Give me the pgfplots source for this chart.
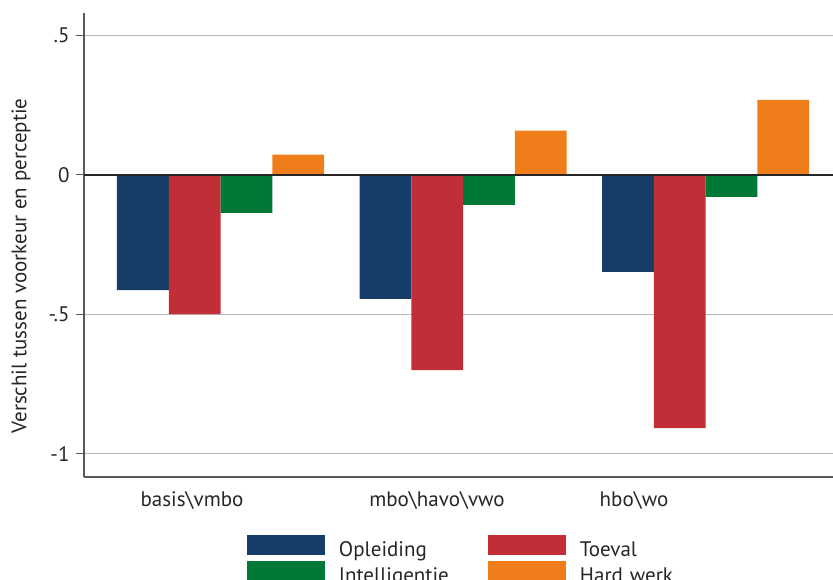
\documentclass[border=0pt]{standalone}
\usepackage{fontspec}
\setmainfont{PT Sans}
\usepackage{pgfplots}
\pgfplotsset{compat=1.18}

\definecolor{opleiding}{HTML}{163D68}
\definecolor{toeval}{HTML}{C22E38}
\definecolor{intel}{HTML}{007836}
\definecolor{hardwerk}{HTML}{EF7D1A}
\definecolor{txt}{HTML}{262626}

\newcommand\chartfont{\fontsize{21bp}{24bp}\selectfont}

\begin{document}
\begin{tikzpicture}
\begin{axis}[
    scale only axis,
    width=749bp, height=464bp,
    xmin=84, xmax=833,
    ymin=-1.083, ymax=0.580,
    ybar=0pt, bar width=51.75bp,
    axis lines*=left,
    axis line style={draw=black!65, line width=1.3bp},
    xtick={192,437,634},
    xticklabels={basis\textbackslash vmbo, mbo\textbackslash havo\textbackslash vwo, hbo\textbackslash wo},
    x tick style={draw=none},
    ytick={-1,-0.5,0,0.5},
    yticklabels={-1,-.5,0,.5},
    y tick style={draw=black!65, line width=1bp},
    tick align=outside,
    major tick length=8bp,
    ymajorgrids,
    grid style={draw=black!28, line width=1.3bp},
    tick label style={font=\chartfont, text=txt},
    /pgf/number format/assume math mode=true,
    xticklabel style={yshift=-3bp},
    yticklabel style={xshift=-3bp},
    ylabel={Verschil tussen voorkeur en perceptie},
    every axis y label/.style={at={(rel axis cs:0,0.455)}, xshift=-63bp, rotate=90, anchor=center, font=\chartfont, text=txt},
    legend columns=2,
    legend style={at={(rel axis cs:0.2176,0)}, anchor=north west, yshift=-58bp,
        draw=none, fill=none, inner sep=0pt, outer sep=0pt, row sep=2.5bp,
        font=\chartfont, text=txt,
        nodes={inner sep=0pt, text width=135bp, align=left},
        /tikz/every odd column/.style={column sep=14bp},
        /tikz/every even column/.style={column sep=14bp}},
    legend image code/.code={\fill[#1,draw=none] (0bp,-5bp) rectangle (78bp,15bp);},
]
\addplot[fill=opleiding, draw=none] coordinates {(220.5,-0.413) (463,-0.445) (705.5,-0.348)};
\addplot[fill=toeval, draw=none] coordinates {(220.5,-0.499) (463,-0.700) (705.5,-0.908)};
\addplot[fill=intel, draw=none] coordinates {(220.5,-0.136) (463,-0.108) (705.5,-0.079)};
\addplot[fill=hardwerk, draw=none] coordinates {(220.5,0.072) (463,0.158) (705.5,0.269)};
\legend{Opleiding, Toeval, Intelligentie, Hard werk}
\draw[black!85, line width=1.5bp] (axis cs:84,0) -- (axis cs:833,0);
\coordinate (A) at (rel axis cs:0,0);
\coordinate (B) at (rel axis cs:1,1);
\end{axis}
\pgfresetboundingbox
\useasboundingbox ([shift={(-84bp,-103bp)}]A) rectangle ([shift={(0bp,13bp)}]B);
\end{tikzpicture}
\end{document}
